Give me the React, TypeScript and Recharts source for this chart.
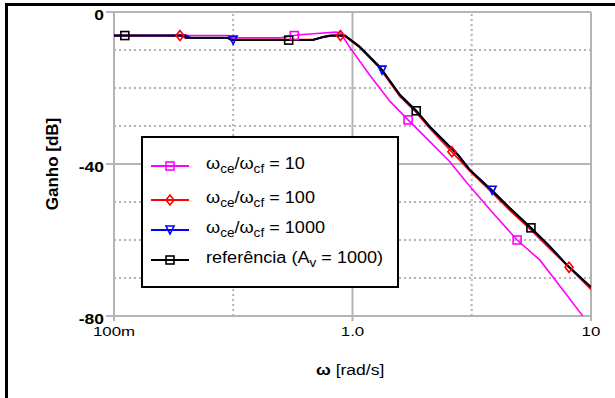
import React from 'react';
import {
    ComposedChart,
    Line,
    XAxis,
    YAxis,
    CartesianGrid,
    ReferenceLine,
} from 'recharts';

// frequencies in rad/s, gains in dB
const freqMag = [0.1, 0.18, 0.19, 0.21, 0.30, 0.31, 0.50, 0.57, 0.60, 0.73, 0.85, 0.89, 0.98, 1.18, 1.44, 1.71, 2.11, 2.56, 3.02, 3.88, 4.9, 6.11, 7.64, 9.16, 9.3];
const gainMag = [-6.2, -6.2, -6.0, -6.2, -6.2, -6.8, -6.8, -6.2, -6.0, -5.6, -5.3, -5.5, -9.5, -16.6, -23.6, -28.4, -34.1, -39.4, -45.0, -52.9, -60.0, -65.3, -73.2, -79.7, -80.6];
const marksMag = [0.57, 1.71, 4.9];

const freqRed = [0.1, 0.189, 0.20, 0.30, 0.31, 0.68, 0.75, 0.81, 0.89, 0.93, 1.07, 1.30, 1.58, 1.85, 2.11, 2.61, 3.11, 3.88, 4.6, 5.6, 6.7, 8.09, 10];
const gainRed = [-6.2, -6.2, -6.8, -6.8, -7.3, -7.3, -6.7, -6.3, -6.2, -6.4, -9.3, -14.7, -22.2, -26.4, -30.6, -36.8, -41.9, -47.7, -52.4, -57.3, -62.2, -67.2, -73.0];
const marksRed = [0.189, 0.89, 2.61, 8.09];

const freqBlue = [0.1, 0.2, 0.21, 0.30, 0.316, 0.68, 0.75, 0.81, 0.93, 1.07, 1.33, 1.58, 1.85, 2.11, 2.77, 3.11, 3.85, 4.6, 5.6, 6.7, 7.93, 10];
const gainBlue = [-6.2, -6.2, -6.8, -6.8, -7.4, -7.4, -6.6, -6.2, -6.2, -9.1, -15.3, -21.8, -26.0, -30.2, -37.6, -41.6, -46.9, -51.8, -56.8, -61.6, -66.6, -72.4];
const marksBlue = [0.316, 1.33, 3.85];

const freqRef = [0.1, 0.111, 0.199, 0.20, 0.30, 0.31, 0.54, 0.68, 0.75, 0.81, 0.93, 1.07, 1.30, 1.58, 1.85, 2.11, 2.77, 3.11, 3.88, 4.6, 5.6, 6.7, 7.93, 10];
const gainRef = [-6.2, -6.2, -6.2, -6.8, -6.8, -7.4, -7.4, -7.4, -6.6, -6.2, -6.2, -9.1, -14.4, -21.8, -26.0, -30.2, -37.6, -41.6, -47.3, -51.8, -56.8, -61.6, -66.6, -72.4];
const marksRef = [0.111, 0.54, 1.85, 5.6];

const xTicks = [0.1, 1, 10];
const xTickLabels = ['100m', '1.0', '10'];
const yTicks = [0, -40, -80];
const xDotted = [0.316, 3.16];
const yDotted = [-10, -20, -30, -50, -60, -70];

const zip = (f: number[], g: number[]) => f.map((v, i) => ({ f: v, g: g[i] }));

const FONT = "Arial, 'Liberation Sans', sans-serif";
const GRID = '#b4b4b4';

const Marker = ({ kind, color, cx, cy }: any) => {
    const s = 4;
    if (kind === 'square')
        return <rect x={cx - s} y={cy - s} width={2 * s} height={2 * s} fill="none" stroke={color} strokeWidth={1.6} />;
    if (kind === 'diamond')
        return <path d={`M${cx},${cy - s - 1}L${cx + s},${cy}L${cx},${cy + s + 1}L${cx - s},${cy}Z`} fill="none" stroke={color} strokeWidth={1.6} />;
    return <path d={`M${cx - s},${cy - s}L${cx + s},${cy - s}L${cx},${cy + s}Z`} fill="none" stroke={color} strokeWidth={1.6} />;
};

const makeDot = (marks: number[], kind: string, color: string) => (props: any) => {
    const { cx, cy, payload, index } = props;
    if (!marks.includes(payload.f)) return <g key={`d${index}`} />;
    return <g key={`d${index}`}><Marker kind={kind} color={color} cx={cx} cy={cy} /></g>;
};

// the source plot has wide (horizontally stretched) lettering
const XTick = ({ x, y, payload }: any) => (
    <g transform={`translate(${x},${y + 13}) scale(1.3,1)`}>
        <text x={0} y={0} textAnchor="middle" fontSize={13} fontFamily={FONT} fill="#000">
            {xTickLabels[xTicks.indexOf(payload.value)]}
        </text>
    </g>
);

const YTick = ({ x, y, payload }: any) => (
    <g transform={`translate(${x},${y + 8}) scale(1.25,1)`}>
        <text x={0} y={0} textAnchor="end" fontSize={14} fontWeight="bold" fontFamily={FONT} fill="#000">
            {payload.value}
        </text>
    </g>
);

const series = [
    { name: 'mag', data: zip(freqMag, gainMag), color: '#ff00ff', kind: 'square', marks: marksMag, width: 1.6 },
    { name: 'red', data: zip(freqRed, gainRed), color: '#ff0000', kind: 'diamond', marks: marksRed, width: 1.8 },
    { name: 'blue', data: zip(freqBlue, gainBlue), color: '#0000ff', kind: 'triangle', marks: marksBlue, width: 1.8 },
    { name: 'ref', data: zip(freqRef, gainRef), color: '#000000', kind: 'square', marks: marksRef, width: 2 },
];

const sub = { fontSize: '0.75em', verticalAlign: '-0.3em' };
const legendItems = [
    { color: '#ff00ff', kind: 'square', label: <>ω<span style={sub}>ce</span>/ω<span style={sub}>cf</span> = 10</> },
    { color: '#ff0000', kind: 'diamond', label: <>ω<span style={sub}>ce</span>/ω<span style={sub}>cf</span> = 100</> },
    { color: '#0000ff', kind: 'triangle', label: <>ω<span style={sub}>ce</span>/ω<span style={sub}>cf</span> = 1000</> },
    { color: '#000000', kind: 'square', label: <>referência (A<span style={sub}>v</span> = 1000)</> },
];
const legendRows = [28, 62, 92, 122];

export default function App() {
    return (
        <div style={{ position: 'absolute', left: 0, top: 0, width: 615, height: 398, background: '#fff', fontFamily: FONT }}>
            <ComposedChart
                width={615}
                height={398}
                margin={{ top: 12, right: 24, bottom: 52, left: 0 }}
            >
                <CartesianGrid stroke={GRID} strokeWidth={2} />
                {yDotted.map(v => (
                    <ReferenceLine key={`y${v}`} y={v} stroke={GRID} strokeWidth={2} strokeDasharray="2 3" />
                ))}
                {xDotted.map(v => (
                    <ReferenceLine key={`x${v}`} x={v} stroke={GRID} strokeWidth={2} strokeDasharray="2 3" />
                ))}
                <XAxis
                    type="number"
                    dataKey="f"
                    scale="log"
                    domain={[0.1, 10]}
                    ticks={xTicks}
                    allowDataOverflow
                    axisLine={false}
                    tickLine={{ stroke: GRID, strokeWidth: 2 }}
                    tickSize={5}
                    height={30}
                    tick={<XTick />}
                />
                <YAxis
                    type="number"
                    dataKey="g"
                    domain={[-80, 0]}
                    ticks={yTicks}
                    allowDataOverflow
                    axisLine={false}
                    tickLine={{ stroke: GRID, strokeWidth: 2 }}
                    tickSize={8}
                    width={114}
                    tick={<YTick />}
                />
                {series.map(s => (
                    <Line
                        key={s.name}
                        data={s.data}
                        dataKey="g"
                        type="linear"
                        stroke={s.color}
                        strokeWidth={s.width}
                        dot={makeDot(s.marks, s.kind, s.color)}
                        activeDot={false}
                        isAnimationActive={false}
                    />
                ))}
            </ComposedChart>

            {/* legend box */}
            <div style={{ position: 'absolute', left: 141, top: 136, width: 258, height: 152, boxSizing: 'border-box', border: '2px solid #000', background: '#fff' }}>
                {legendItems.map((it, i) => (
                    <div key={i} style={{ position: 'absolute', left: 7, top: legendRows[i] - 12, height: 24, display: 'flex', alignItems: 'center', whiteSpace: 'nowrap' }}>
                        <svg width={40} height={24}>
                            <line x1={1} y1={12} x2={39} y2={12} stroke={it.color} strokeWidth={2} />
                            <Marker kind={it.kind} color={it.color} cx={20} cy={12} />
                        </svg>
                        <span style={{ marginLeft: 16, fontSize: 16, color: '#000', lineHeight: '16px', display: 'inline-block', transform: 'scaleX(1.13)', transformOrigin: 'left center' }}>{it.label}</span>
                    </div>
                ))}
            </div>

            {/* axis titles */}
            <div style={{ position: 'absolute', left: 53, top: 164, transform: 'translate(-50%, -50%) rotate(-90deg)', fontSize: 17, fontWeight: 'bold', whiteSpace: 'nowrap' }}>
                Ganho [dB]
            </div>
            <div style={{ position: 'absolute', left: 316, top: 362, fontSize: 14, whiteSpace: 'nowrap', transform: 'scaleX(1.25)', transformOrigin: 'left center' }}>
                <b>ω</b> [rad/s]
            </div>

            {/* frame (top and left only) */}
            <div style={{ position: 'absolute', left: 5, top: 3, width: 610, height: 3, background: '#000' }} />
            <div style={{ position: 'absolute', left: 5, top: 3, width: 3, height: 395, background: '#000' }} />
        </div>
    );
}
